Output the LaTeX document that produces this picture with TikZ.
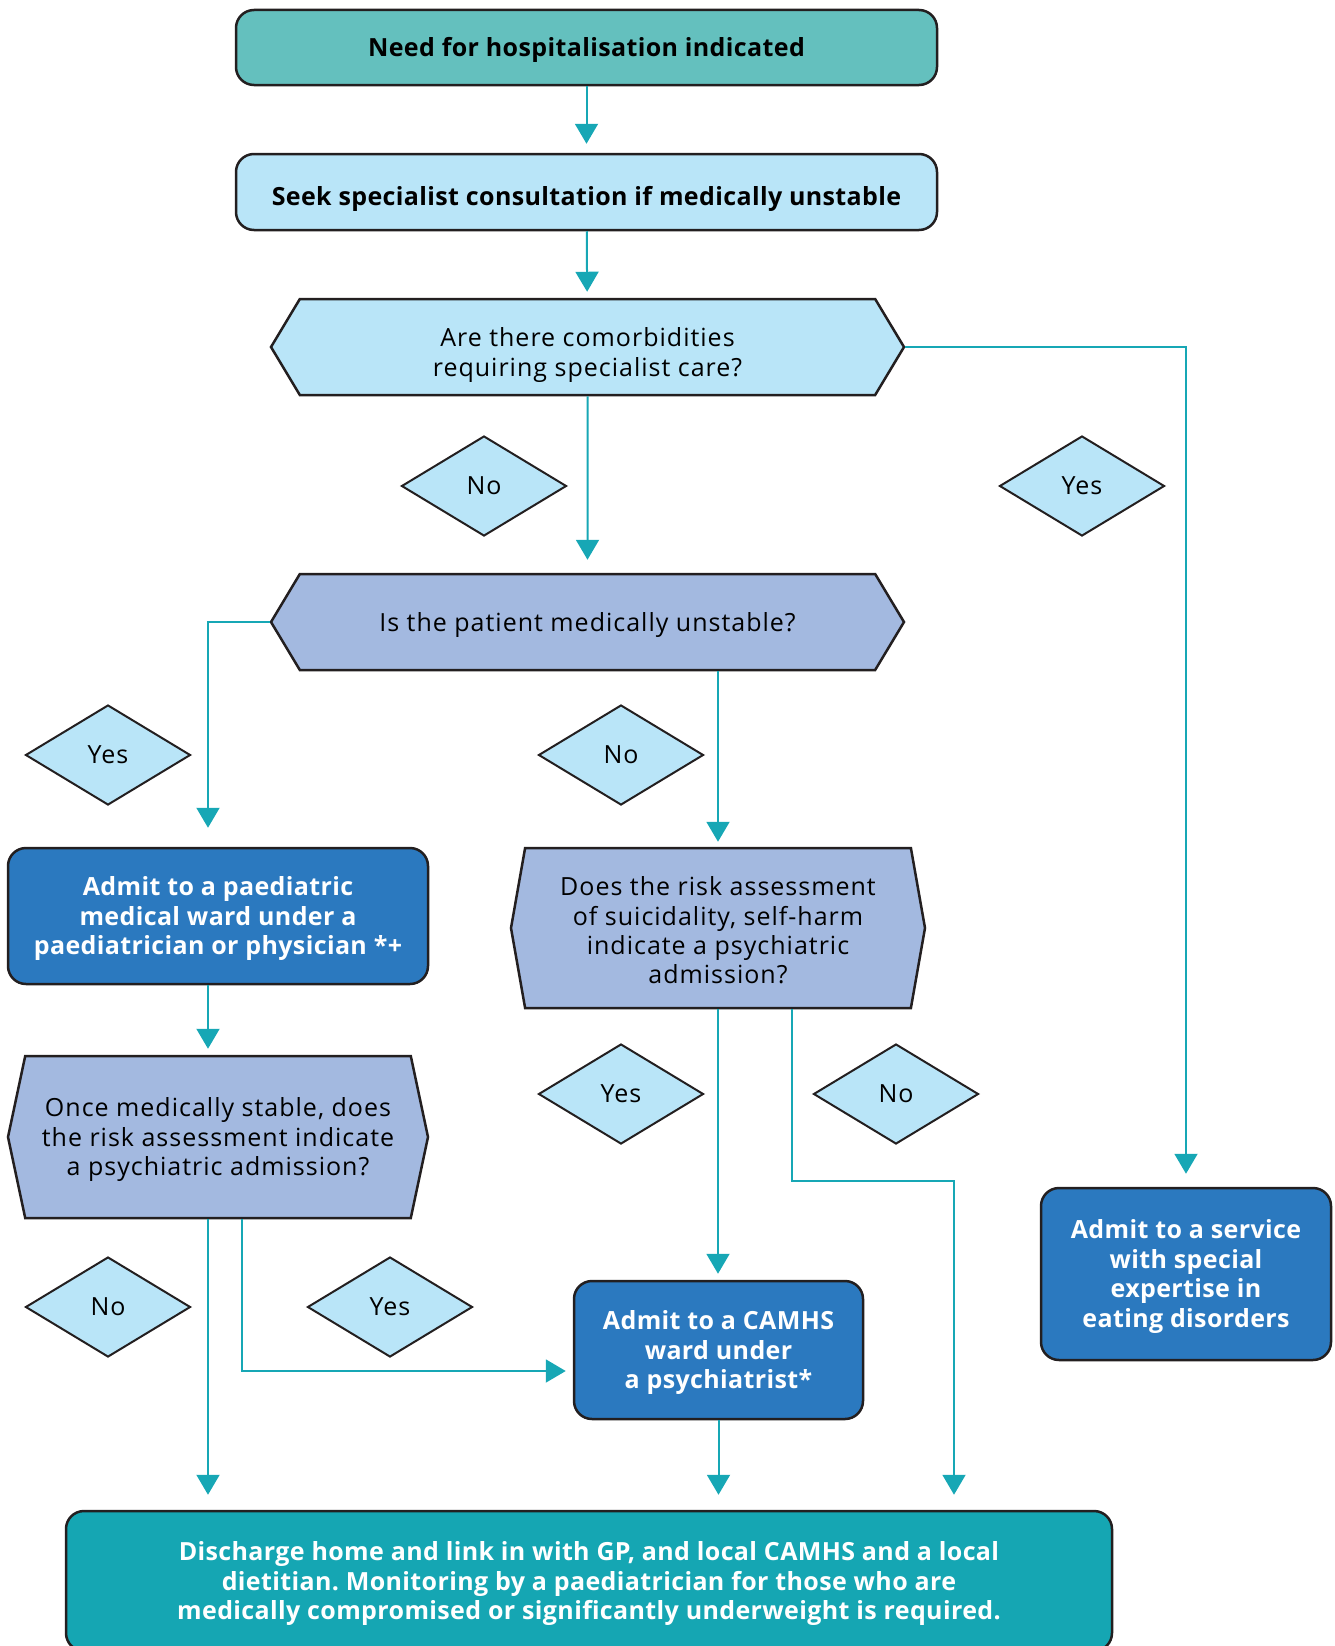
\documentclass[tikz,border=0pt]{standalone}
\usepackage{fontspec}
\setmainfont{Open Sans}[LetterSpace=4, BoldFeatures={LetterSpace=1.5}]
\usetikzlibrary{shapes.geometric,shapes.symbols,arrows.meta}
\frenchspacing

\definecolor{tealhead}{HTML}{64C0BE}
\definecolor{paleblue}{HTML}{B9E5F8}
\definecolor{greyblue}{HTML}{A3B9E0}
\definecolor{darkblue}{HTML}{2B79BF}
\definecolor{tealfoot}{HTML}{15A6B3}
\definecolor{linkteal}{HTML}{17A7B5}
\definecolor{edgeink}{HTML}{231F20}

% strut that pushes a first line down a little
\newcommand{\lift}[1][24pt]{\rule{0pt}{#1}}

\tikzset{
  txt/.style={font=\fontsize{25}{29.4}\selectfont},
  bold/.style={font=\fontsize{25}{29.4}\selectfont\bfseries},
  box/.style={draw=edgeink, line width=2.5pt, rounded corners=18pt, align=center, inner sep=0pt},
  hexq/.style={txt, signal, signal to=east and west, draw=edgeink, line width=2.5pt, fill=greyblue, align=center, inner sep=0pt},
  tag/.style={txt, diamond, draw=edgeink, line width=2pt, fill=paleblue, minimum width=165pt, minimum height=100pt, inner sep=0pt},
  link/.style={draw=linkteal, line width=2pt, -{Triangle[width=23pt,length=20pt]}},
}

\begin{document}
\begin{tikzpicture}[x=1pt,y=-1pt]
\useasboundingbox (0,0) rectangle (1335,1646);

% boxes and questions
\node[box, bold, fill=tealhead, minimum width=701pt, minimum height=75pt] (need) at (586.5,47.5) {\lift Need for hospitalisation indicated};
\node[box, bold, fill=paleblue, minimum width=701pt, minimum height=76pt] (seek) at (586.5,192) {\lift[33pt]Seek specialist consultation if medically unstable};
\node[hexq, fill=paleblue, signal pointer angle=118, minimum width=633pt, minimum height=96pt] (comorb) at (587.5,347) {\lift[35pt]Are there comorbidities\\requiring specialist care?};
\node[hexq, signal pointer angle=118, minimum width=633pt, minimum height=96pt] (unstable) at (587.5,622) {\lift Is the patient medically unstable?};
\node[box, bold, fill=darkblue, text=white, minimum width=420pt, minimum height=136pt] (paed) at (218,916) {\lift Admit to a paediatric\\medical ward under a\\paediatrician or physician *+};
\node[hexq, signal pointer angle=160, minimum width=414pt, minimum height=160pt] (riskq) at (718,928) {\lift Does the risk assessment\\of suicidality, self-harm\\indicate a psychiatric\\admission?};
\node[hexq, signal pointer angle=156, minimum width=420pt, minimum height=162pt] (onceq) at (218,1137) {\lift Once medically stable, does\\the risk assessment indicate\\a psychiatric admission?};
\node[box, bold, fill=darkblue, text=white, minimum width=289pt, minimum height=138pt] (camhs) at (718.5,1350) {\lift Admit to a CAMHS\\ward under\\a psychiatrist*};
\node[box, bold, fill=darkblue, text=white, minimum width=290pt, minimum height=172pt] (service) at (1186,1274) {\lift Admit to a service\\with special\\expertise in\\eating disorders};
\node[box, bold, fill=tealfoot, text=white, minimum width=1046pt, minimum height=140pt] (footer) at (589,1581) {\lift Discharge home and link in with GP, and local CAMHS and a local\\dietitian. Monitoring by a paediatrician for those who are\\medically compromised or significantly underweight is required.};

% yes / no tags
\node[tag] (no1) at (484,486) {No};
\node[tag] (yes1) at (1082,486) {Yes};
\node[tag] (yes2) at (108,755) {Yes};
\node[tag] (no2) at (621,755) {No};
\node[tag] (yes3) at (621,1094) {Yes};
\node[tag] (no3) at (896,1094) {No};
\node[tag] (no4) at (108,1307) {No};
\node[tag] (yes4) at (390,1307) {Yes};

\coordinate (bend) at (954,1181);

% connectors
\draw[link, shorten >=9pt] (need) -- (seek);
\draw[link, shorten >=6pt] (seek) -- (comorb);
\draw[link, shorten >=13pt] (comorb) -- (unstable);
\draw[link, shorten >=13pt] (comorb.east) -| (service.north);
\draw[link, shorten >=19pt] (unstable.west) -| ([xshift=-10pt]paed.north);
\draw[link, shorten >=5pt] (unstable.south -| riskq.north) -- (riskq.north);
\draw[link, shorten >=6pt] ([xshift=-10pt]paed.south) -- ([xshift=-10pt]onceq.north);
\draw[link, shorten >=15pt] ([xshift=-10pt]onceq.south) -- ([xshift=-10pt]onceq.south |- footer.north);
\draw[link, shorten >=7pt] ([xshift=24pt]onceq.south) |- ([yshift=-21pt]camhs.west);
\draw[link, shorten >=6pt] (riskq.south) -- (riskq.south |- camhs.north);
\draw[link, shorten >=15pt] ([xshift=74pt]riskq.south) |- (bend) -- (bend |- footer.north);
\draw[link, shorten >=15pt] (camhs.south) -- (camhs.south |- footer.north);
\end{tikzpicture}
\end{document}
